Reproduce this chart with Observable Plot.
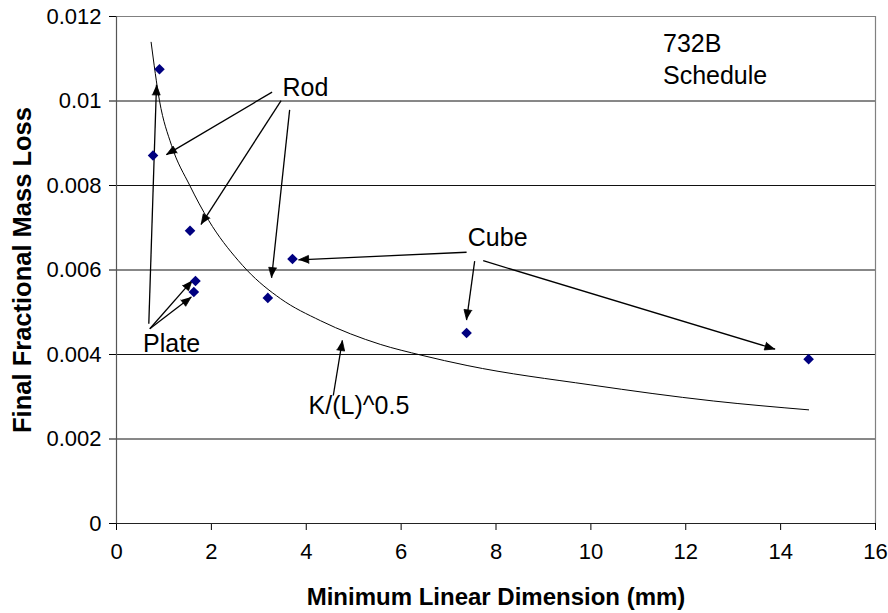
<!DOCTYPE html>
<html>
<head>
<meta charset="utf-8">
<script src="https://cdn.jsdelivr.net/npm/d3@7"></script>
<script src="https://cdn.jsdelivr.net/npm/@observablehq/plot@0.6"></script>
<style>
  html, body { margin: 0; padding: 0; background: #fff; }
</style>
</head>
<body>
<div id="chart"></div>
<script>
// Measured samples: minimum linear dimension (mm) vs final fractional mass loss
const sampleDim  = [0.906, 0.77, 1.55, 1.665, 1.63, 3.19, 3.71, 7.38, 14.59];
const sampleLoss = [0.01075, 0.00871, 0.00693, 0.00574, 0.00548, 0.00534, 0.00626, 0.00451, 0.00389];

// Fitted trend K/(L)^0.5, as plotted
const fitDim  = [0.73, 0.906, 1.16, 1.545, 1.945, 2.57, 2.755, 3.46, 4.30, 5.56, 6.44, 7.39, 10.0, 12.58, 14.59];
const fitLoss = [0.01139, 0.01001, 0.00895, 0.0080, 0.00717, 0.00622, 0.00599, 0.00532, 0.0048, 0.00424, 0.00398, 0.00374, 0.00328, 0.0029, 0.00269];

// Axis ticks
const xTicks = [0, 2, 4, 6, 8, 10, 12, 14, 16];
const yTicks = [0, 0.002, 0.004, 0.006, 0.008, 0.01, 0.012];
const gridLoss = [0.002, 0.004, 0.006, 0.008, 0.01];

// Callout labels
const labelText = ["Rod", "Plate", "Cube", "K/(L)^0.5", "732B", "Schedule"];
const labelDim  = [3.5, 0.56, 7.405, 4.05, 11.52, 11.52];
const labelLoss = [0.01031, 0.00424, 0.00676, 0.00278, 0.01134, 0.0106];

// Callout arrows, tail -> tip
const arrowFromDim  = [3.28, 3.47, 3.65, 0.681, 0.702, 0.702, 7.38, 7.55, 7.73, 4.57];
const arrowFromLoss = [0.01021, 0.01001, 0.00979, 0.00473, 0.00461, 0.00461, 0.00642, 0.00621, 0.00622, 0.00303];
const arrowToDim    = [1.054, 1.785, 3.27, 0.843, 1.594, 1.575, 3.84, 7.38, 13.88, 4.76];
const arrowToLoss   = [0.00873, 0.00708, 0.00582, 0.01038, 0.00575, 0.00536, 0.00624, 0.00482, 0.00413, 0.00433];

const FONT = "Arial, 'Liberation Sans', Helvetica, sans-serif";

const samples = sampleDim.map((d, i) => ({dim: d, loss: sampleLoss[i]}));
const fit = fitDim.map((d, i) => ({dim: d, loss: fitLoss[i]}));
const labels = labelText.map((t, i) => ({text: t, dim: labelDim[i], loss: labelLoss[i]}));
const arrows = arrowFromDim.map((d, i) => ({
  x1: d, y1: arrowFromLoss[i], x2: arrowToDim[i], y2: arrowToLoss[i]
}));

// Rotated-square marker
const diamond = {
  draw(context, size) {
    const h = Math.sqrt(size / Math.PI);
    context.moveTo(0, -h);
    context.lineTo(h, 0);
    context.lineTo(0, h);
    context.lineTo(-h, 0);
    context.closePath();
  }
};

const base = {
  width: 888,
  height: 613,
  marginLeft: 116,
  marginRight: 13,
  marginTop: 16,
  marginBottom: 90,
  style: {fontFamily: FONT, fontSize: "22px", background: "#fff", color: "#000", overflow: "visible"},
  x: {domain: [0, 16], ticks: xTicks, tickSize: 7, tickPadding: 13, label: null},
  y: {domain: [0, 0.012], ticks: yTicks, tickSize: 7, tickPadding: 8, tickFormat: d3.format("~g"), label: null}
};

// First pass resolves the scales so arrowheads can be shaped in screen space
const probe = Plot.plot({...base, marks: [Plot.dot(samples, {x: "dim", y: "loss"})]});
const px = probe.scale("x"), py = probe.scale("y");
const sx = d3.scaleLinear(px.domain, px.range);
const sy = d3.scaleLinear(py.domain, py.range);

const headLen = 10, headHalf = 4;
const heads = [];
arrows.forEach((a, i) => {
  const X1 = sx(a.x1), Y1 = sy(a.y1), X2 = sx(a.x2), Y2 = sy(a.y2);
  const L = Math.hypot(X2 - X1, Y2 - Y1);
  const ux = (X2 - X1) / L, uy = (Y2 - Y1) / L;
  const bx = X2 - ux * headLen, by = Y2 - uy * headLen;
  const nx = -uy, ny = ux;
  [[X2, Y2], [bx + nx * headHalf, by + ny * headHalf], [bx - nx * headHalf, by - ny * headHalf]]
    .forEach(([X, Y]) => heads.push({id: i, dim: sx.invert(X), loss: sy.invert(Y)}));
});

const chart = Plot.plot({
  ...base,
  marks: [
    Plot.ruleY(gridLoss, {stroke: "#111", strokeWidth: 1}),
    Plot.ruleY([0.012], {stroke: "#808080", strokeWidth: 1.2}),
    Plot.ruleX([16], {stroke: "#808080", strokeWidth: 1.2}),
    Plot.ruleX([0], {stroke: "#555", strokeWidth: 1.2}),
    Plot.ruleY([0], {stroke: "#222", strokeWidth: 1.2}),
    Plot.line(fit, {x: "dim", y: "loss", curve: "monotone-x", stroke: "#000", strokeWidth: 1}),
    Plot.link(arrows, {x1: "x1", y1: "y1", x2: "x2", y2: "y2", stroke: "#000", strokeWidth: 1.3}),
    Plot.line(heads, {x: "dim", y: "loss", z: "id", fill: "#000", stroke: "#000", strokeWidth: 0.8}),
    Plot.dot(samples, {x: "dim", y: "loss", r: 5.3, symbol: diamond, fill: "#000080", stroke: "none"}),
    Plot.text(labels, {x: "dim", y: "loss", text: "text", textAnchor: "start", lineAnchor: "middle", fontSize: 25, fill: "#000"}),
    Plot.text(["Minimum Linear Dimension (mm)"], {text: d => d, frameAnchor: "bottom", dy: 74, textAnchor: "middle", lineAnchor: "middle", fontWeight: "bold", fontSize: 24}),
    Plot.text(["Final Fractional Mass Loss"], {text: d => d, frameAnchor: "left", dx: -94, rotate: -90, textAnchor: "middle", lineAnchor: "middle", fontWeight: "bold", fontSize: 25.5})
  ]
});

document.getElementById("chart").appendChild(chart);
</script>
</body>
</html>
